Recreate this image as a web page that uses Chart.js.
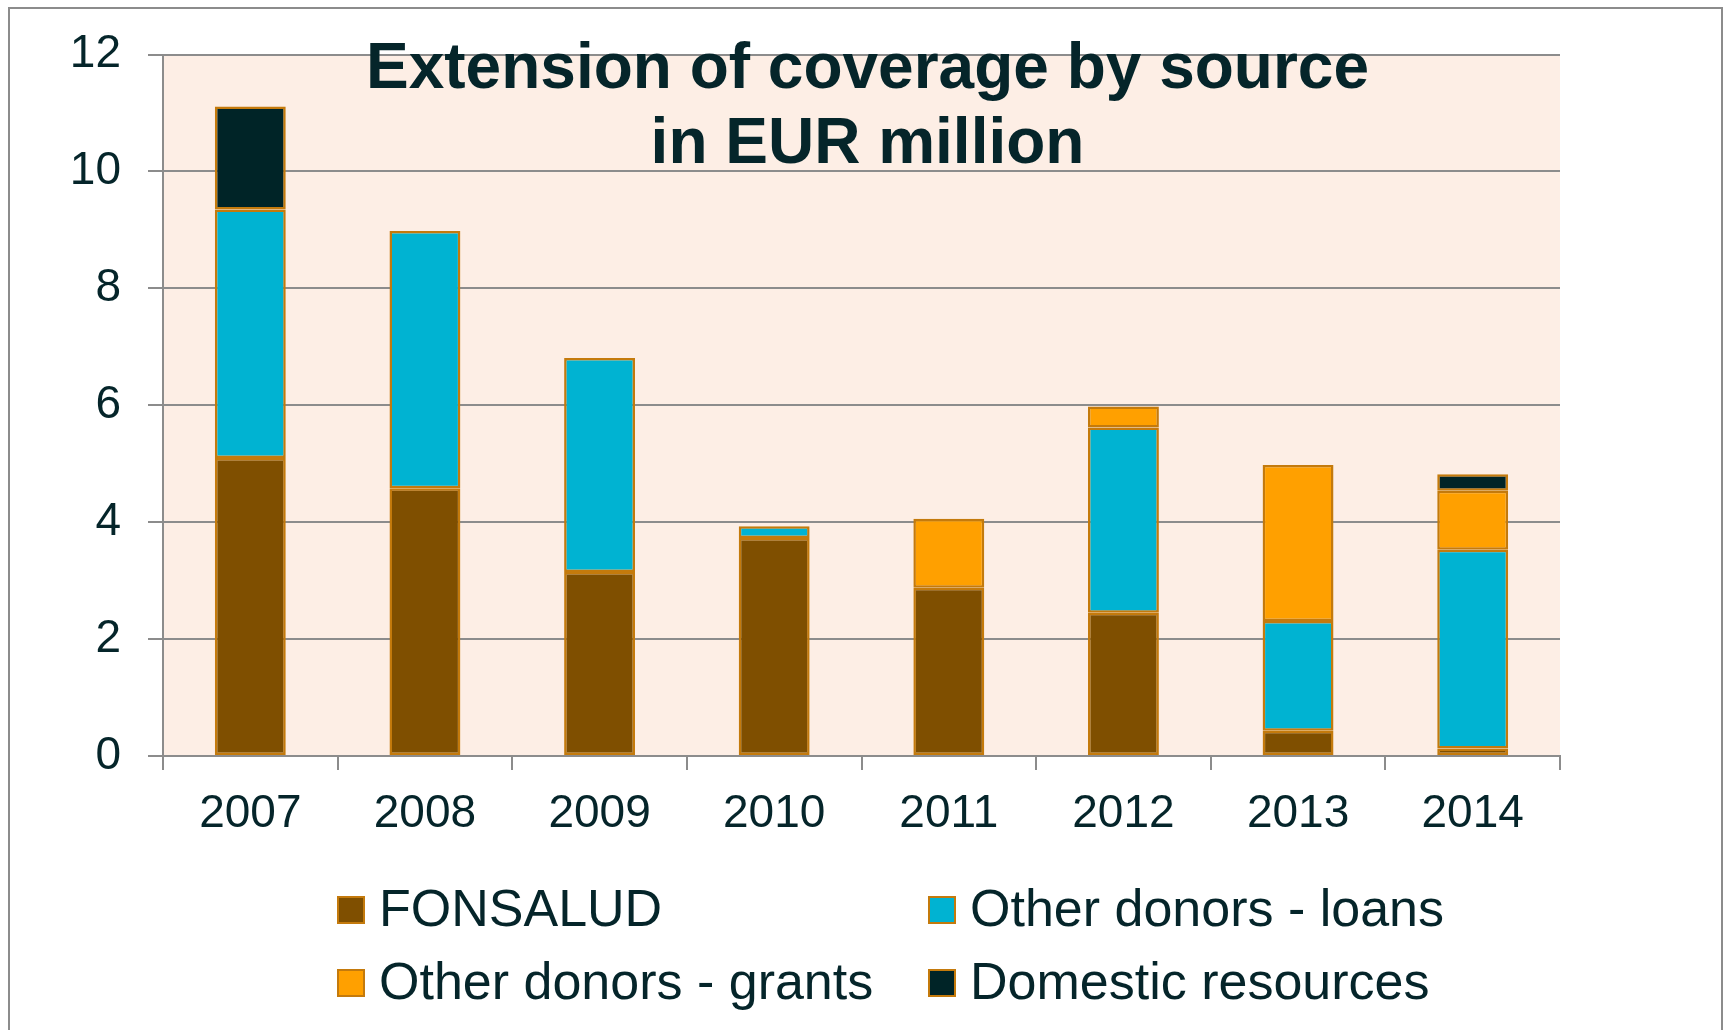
<!DOCTYPE html>
<html>
<head>
<meta charset="utf-8">
<script src="https://cdn.jsdelivr.net/npm/chart.js@4/dist/chart.umd.min.js"></script>
<style>
  html, body { margin: 0; padding: 0; background: #fff; }
  canvas { display: block; }
</style>
</head>
<body>
<canvas id="grafico" width="1725" height="1030"></canvas>
<script>
/*************************************************
 * DADOS
 *************************************************/
const anos = ['2007', '2008', '2009', '2010', '2011', '2012', '2013', '2014'];

const fonsalud = [5.1, 4.58, 3.15, 3.73, 2.88, 2.45, 0.43, 0.13];
const emprestimos = [4.25, 4.4, 3.66, 0.2, 0, 3.17, 1.88, 3.4];
const doacoes = [0, 0, 0, 0, 1.18, 0.36, 2.67, 1.01];
const domesticos = [1.76, 0, 0, 0, 0, 0, 0, 0.28];

const rotulos = ['FONSALUD', 'Other donors - loans', 'Other donors - grants', 'Domestic resources'];
const ticksY = [0, 2, 4, 6, 8, 10, 12];
const titulo = ['Extension of coverage by source', 'in EUR million'];

/*************************************************
 * CORES
 *************************************************/
const COR_TEXTO = '#05252a';
const COR_GRADE = '#8c8c8c';
const COR_BORDA = '#c47a0c';
const COR_FUNDO = '#fdeee5';
const cores = ['#7f4f00', '#00b3d2', '#ffa000', '#002427'];
const FONTE = '"Liberation Sans", Arial, sans-serif';

/*************************************************
 * PLUGIN: fundo, moldura, título e legenda
 *************************************************/
const decoracao = {
  id: 'decoracao',
  beforeDraw(chart) {
    const { ctx, chartArea: a } = chart;
    ctx.save();
    ctx.fillStyle = COR_FUNDO;
    ctx.fillRect(a.left, a.top, a.right - a.left, a.bottom - a.top);
    // moldura do slide
    ctx.strokeStyle = COR_GRADE;
    ctx.lineWidth = 2;
    ctx.strokeRect(9, 8, chart.width - 12, chart.height + 20);
    ctx.restore();
  },
  afterDraw(chart) {
    const { ctx } = chart;
    ctx.save();

    // título dentro da área do gráfico
    ctx.fillStyle = COR_TEXTO;
    ctx.textAlign = 'center';
    ctx.textBaseline = 'alphabetic';
    ctx.font = 'bold 64px ' + FONTE;
    const cx = chart.width / 2 + 5;
    ctx.fillText(titulo[0], cx, 88);
    ctx.fillText(titulo[1], cx, 163);

    // legenda em duas colunas
    const colX = [337, 928];
    const linY = [910, 983];
    ctx.font = '52px ' + FONTE;
    ctx.textAlign = 'left';
    ctx.textBaseline = 'middle';
    chart.data.datasets.forEach((ds, i) => {
      const x = colX[i % 2];
      const y = linY[Math.floor(i / 2)];
      ctx.fillStyle = ds.backgroundColor;
      ctx.fillRect(x, y - 14, 28, 28);
      ctx.strokeStyle = COR_BORDA;
      ctx.lineWidth = 2;
      ctx.strokeRect(x + 1, y - 13, 26, 26);
      ctx.fillStyle = COR_TEXTO;
      ctx.fillText(ds.label, x + 42, y + 2);
    });

    ctx.restore();
  }
};

/*************************************************
 * GRÁFICO
 *************************************************/
const series = [fonsalud, emprestimos, doacoes, domesticos];

new Chart(document.getElementById('grafico').getContext('2d'), {
  type: 'bar',
  data: {
    labels: anos,
    datasets: series.map((dados, i) => ({
      label: rotulos[i],
      data: dados,
      backgroundColor: cores[i],
      borderColor: COR_BORDA,
      borderWidth: 2.5,
      borderSkipped: false,
      categoryPercentage: 1,
      barPercentage: 0.406
    }))
  },
  options: {
    responsive: false,
    animation: false,
    devicePixelRatio: 1,
    layout: { padding: { top: 51, right: 165, left: 0, bottom: 0 } },
    plugins: {
      legend: { display: false },
      title: { display: false },
      tooltip: { enabled: false }
    },
    scales: {
      x: {
        stacked: true,
        afterFit: s => { s.height = 274; },
        grid: {
          display: true,
          drawOnChartArea: false,
          drawTicks: true,
          tickLength: 14,
          color: COR_GRADE,
          lineWidth: 2,
          offset: true
        },
        border: { display: true, color: COR_GRADE, width: 2 },
        ticks: {
          color: COR_TEXTO,
          font: { family: FONTE, size: 46 },
          padding: 17
        }
      },
      y: {
        stacked: true,
        min: 0,
        max: 12,
        afterFit: s => { s.width = 163; },
        afterBuildTicks: s => { s.ticks = ticksY.map(v => ({ value: v })); },
        grid: {
          color: COR_GRADE,
          lineWidth: 2,
          tickLength: 15
        },
        border: { display: true, color: COR_GRADE, width: 2 },
        ticks: {
          color: COR_TEXTO,
          font: { family: FONTE, size: 46 },
          padding: 27
        }
      }
    }
  },
  plugins: [decoracao]
});
</script>
</body>
</html>
